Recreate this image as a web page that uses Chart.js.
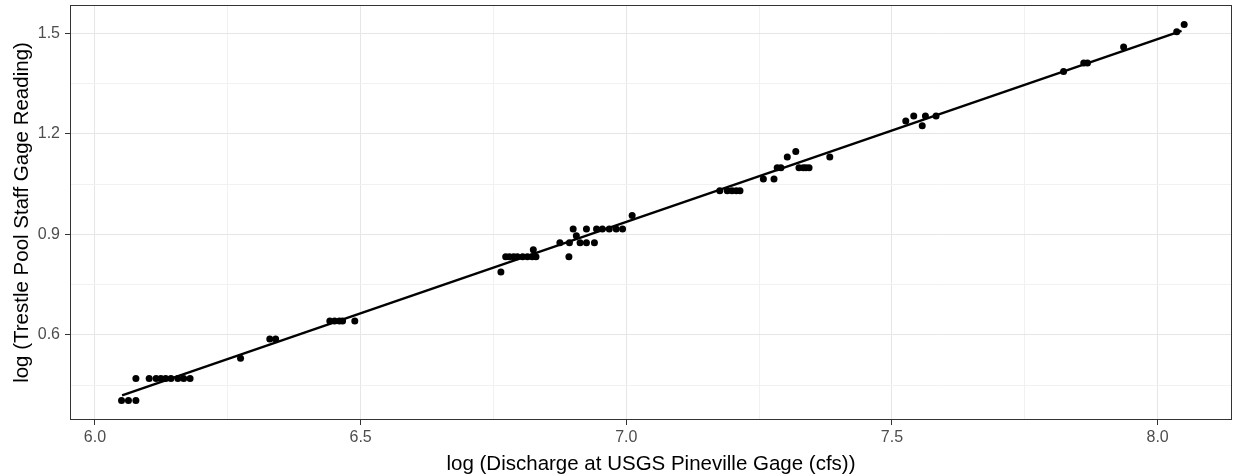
<!DOCTYPE html>
<html>
<head>
<meta charset="utf-8">
<script src="https://cdn.jsdelivr.net/npm/chart.js@4/dist/chart.umd.min.js"></script>
<style>
  html, body { margin: 0; padding: 0; background: #fff; }
  #wrap { width: 1238px; height: 475px; }
</style>
</head>
<body>
<div id="wrap"><canvas id="chart"></canvas></div>
<script>
// log discharge (x) vs log staff reading (y)
const dischargeLog = [
    6.050, 6.063, 6.077,
    6.077, 6.102, 6.115, 6.124, 6.133, 6.143, 6.156, 6.167, 6.179,
    6.274,
    6.329, 6.340,
    6.442, 6.451, 6.460, 6.466, 6.489,
    6.764,
    6.773, 6.780, 6.788, 6.795, 6.805, 6.814, 6.823, 6.830,
    6.825,
    6.875, 6.893, 6.913, 6.925, 6.940,
    6.892,
    6.906,
    6.900, 6.925, 6.944, 6.955, 6.968, 6.981, 6.993,
    7.011,
    7.176, 7.190, 7.199, 7.207, 7.214,
    7.258, 7.278,
    7.284, 7.291, 7.325, 7.333, 7.338, 7.344,
    7.303, 7.383,
    7.319,
    7.526,
    7.541, 7.563, 7.583,
    7.557,
    7.823,
    7.861, 7.868,
    7.936,
    8.036,
    8.050
];
const staffLog = [
    0.405, 0.405, 0.405,
    0.470, 0.470, 0.470, 0.470, 0.470, 0.470, 0.470, 0.470, 0.470,
    0.531,
    0.588, 0.588,
    0.642, 0.642, 0.642, 0.642, 0.642,
    0.788,
    0.833, 0.833, 0.833, 0.833, 0.833, 0.833, 0.833, 0.833,
    0.854,
    0.875, 0.875, 0.875, 0.875, 0.875,
    0.833,
    0.896,
    0.916, 0.916, 0.916, 0.916, 0.916, 0.916, 0.916,
    0.956,
    1.030, 1.030, 1.030, 1.030, 1.030,
    1.065, 1.065,
    1.099, 1.099, 1.099, 1.099, 1.099, 1.099,
    1.131, 1.131,
    1.147,
    1.238,
    1.253, 1.253, 1.253,
    1.224,
    1.386,
    1.411, 1.411,
    1.459,
    1.504,
    1.526
];

// fitted line ends
const fitX = [6.051, 8.045];
const fitY = [0.420, 1.507];

const xMajor = [6.0, 6.5, 7.0, 7.5, 8.0];
const xMinor = [6.25, 6.75, 7.25, 7.75];
const yMajor = [0.6, 0.9, 1.2, 1.5];
const yMinor = [0.45, 0.75, 1.05, 1.35];

const xRange = [5.953, 8.14];
const yRange = [0.3465, 1.584];

const points = dischargeLog.map((x, i) => ({ x: x, y: staffLog[i] }));
const fitLine = fitX.map((x, i) => ({ x: x, y: fitY[i] }));

function setTicks(major, minor) {
    return scale => {
        scale.ticks = major.concat(minor).sort((a, b) => a - b).map(v => ({ value: v }));
    };
}
const isMajor = (list, v) => list.some(m => Math.abs(m - v) < 1e-9);

function gridFor(major) {
    return {
        color: ctx => isMajor(major, ctx.tick.value) ? '#e6e6e6' : '#f1f1f1',
        lineWidth: 1,
        drawTicks: true,
        tickLength: 5,
        tickWidth: 1,
        tickColor: ctx => isMajor(major, ctx.tick.value) ? '#333333' : 'rgba(0,0,0,0)'
    };
}

// ggplot-like panel border
const panelBorder = {
    id: 'panelBorder',
    afterDraw(chart) {
        const { ctx, chartArea: a } = chart;
        ctx.save();
        ctx.strokeStyle = '#333333';
        ctx.lineWidth = 1;
        ctx.strokeRect(Math.round(a.left) + 0.5, Math.round(a.top) + 0.5,
            Math.round(a.right - a.left) - 1, Math.round(a.bottom - a.top) - 1);
        ctx.restore();
    }
};

Chart.defaults.font.family = '"Liberation Sans", Arial, sans-serif';

new Chart(document.getElementById('chart'), {
    type: 'scatter',
    data: {
        datasets: [
            {
                type: 'line',
                data: fitLine,
                borderColor: '#000000',
                borderWidth: 2.4,
                pointRadius: 0,
                fill: false
            },
            {
                data: points,
                backgroundColor: '#000000',
                borderColor: '#000000',
                borderWidth: 0,
                pointRadius: 3.5
            }
        ]
    },
    options: {
        responsive: true,
        maintainAspectRatio: false,
        animation: false,
        events: [],
        layout: { padding: { top: 5, right: 6, left: 0, bottom: 0 } },
        plugins: {
            legend: { display: false },
            tooltip: { enabled: false }
        },
        scales: {
            x: {
                type: 'linear',
                min: xRange[0],
                max: xRange[1],
                afterBuildTicks: setTicks(xMajor, xMinor),
                afterFit: scale => {
                    scale.height = 55;
                    scale.paddingLeft = 0;
                    scale.paddingRight = 0;
                },
                grid: gridFor(xMajor),
                border: { display: false },
                ticks: {
                    padding: 3,
                    color: '#4d4d4d',
                    font: { size: 16 },
                    maxRotation: 0,
                    autoSkip: false,
                    callback: v => isMajor(xMajor, v) ? v.toFixed(1) : ''
                },
                title: {
                    display: true,
                    text: 'log (Discharge at USGS Pineville Gage (cfs))',
                    color: '#000000',
                    font: { size: 20.5 },
                    padding: { top: 0, bottom: -1.5 }
                }
            },
            y: {
                type: 'linear',
                min: yRange[0],
                max: yRange[1],
                afterBuildTicks: setTicks(yMajor, yMinor),
                afterFit: scale => {
                    scale.width = 70;
                    scale.paddingTop = 0;
                    scale.paddingBottom = 0;
                },
                grid: gridFor(yMajor),
                border: { display: false },
                ticks: {
                    padding: 5,
                    color: '#4d4d4d',
                    font: { size: 16 },
                    autoSkip: false,
                    callback: v => isMajor(yMajor, v) ? v.toFixed(1) : ''
                },
                title: {
                    display: true,
                    text: 'log (Trestle Pool Staff Gage Reading)',
                    color: '#000000',
                    font: { size: 20.5 },
                    padding: { top: 10, bottom: 0 }
                }
            }
        }
    },
    plugins: [panelBorder]
});
</script>
</body>
</html>
